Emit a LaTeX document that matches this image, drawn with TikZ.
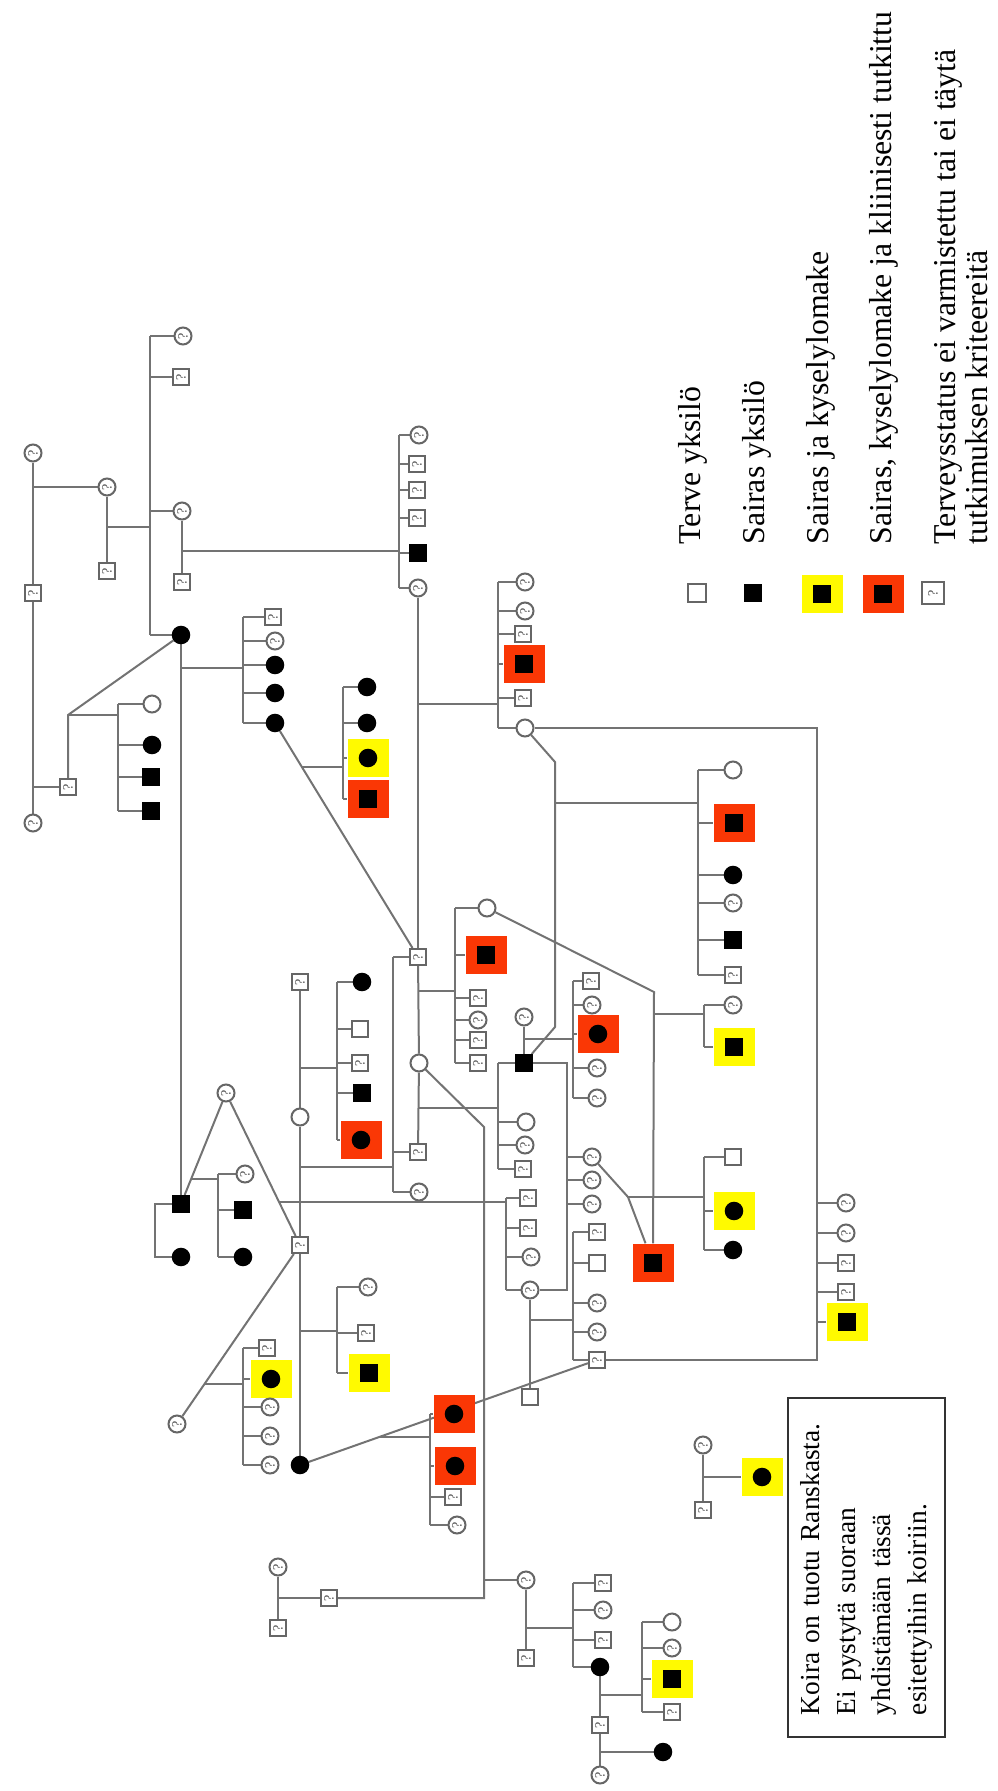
\documentclass[tikz,border=0pt]{standalone}
\usepackage{fontspec}
\setmainfont{Liberation Serif}
\usepackage{tikz}
\usetikzlibrary{calc,backgrounds}
\definecolor{keltainen}{RGB}{255,250,0}
\definecolor{punainen}{RGB}{250,55,5}

\begin{document}
\begin{tikzpicture}[x=0.1mm, y=-0.1mm,
	merkki/.style={draw=black!60, line width=0.2mm, fill=white, inner sep=0pt, minimum size=1.6mm, rotate=90, font=\fontsize{4}{4}\selectfont, text=black!70},
	qc/.style={merkki, circle, minimum size=1.7mm},
	qs/.style={merkki, rectangle},
	oc/.style={merkki, circle, minimum size=1.7mm},
	os/.style={merkki, rectangle},
	bc/.style={merkki, circle, minimum size=1.65mm, draw=black, fill=black},
	bs/.style={merkki, rectangle, draw=black, fill=black},
	kelt/.style={rectangle, fill=keltainen, minimum width=4.1mm, minimum height=3.8mm, inner sep=0pt},
	pun/.style={rectangle, fill=punainen, minimum width=4.1mm, minimum height=3.8mm, inner sep=0pt},
	yhd/.style={color=black!55, line width=0.2mm},
	selite/.style={rotate=90, anchor=base west, inner sep=0pt, font=\fontsize{9.05}{11}\selectfont}]
	\useasboundingbox (0,0) rectangle (998,1791);

	% Selitteet
	\node[os, minimum size=1.8mm] (lg1) at (697,593) {};
	\node[bs] (lg2) at (753,593) {};
	\node[kelt] (lg3) at (822,594) {};
	\node[bs] (lg3m) at (822,594) {};
	\node[pun] (lg4) at (883,594) {};
	\node[bs] (lg4m) at (883,594) {};
	\node[qs, minimum size=2.2mm] (lg5) at (933,593) {?};
	\node[selite] (t1) at (700,545) {Terve yksilö};
	\node[selite] (t2) at (764,545) {Sairas yksilö};
	\node[selite] (t3) at (828,545) {Sairas ja kyselylomake};
	\node[selite] (t4) at (891,545) {Sairas, kyselylomake ja kliinisesti tutkittu};
	\node[selite] (t5) at (955,545) {Terveysstatus ei varmistettu tai ei täytä};
	\node[selite] (t6) at (987,545) {tutkimuksen kriteereitä};

	% Huomautuslaatikko
	\node[draw=black!80, line width=0.25mm, rotate=90, align=left, text width=29.5mm, inner xsep=2.2mm, minimum height=15.7mm, font=\fontsize{7.8}{10.2}\selectfont] (huom) at (866.5,1567.5) {Koira on tuotu Ranskasta.\\Ei pystytä suoraan\\yhdistämään tässä\\esitettyihin koiriin.};

	% Vasen yläkulma
	\node[qc] (c1) at (33,453) {?};
	\node[qs] (s1) at (33,593) {?};
	\node[qc] (c2) at (33,823) {?};
	\node[qc] (c3) at (107,487) {?};
	\node[qs] (s2) at (107,571) {?};
	\node[qs] (s3) at (68,787) {?};
	\node[qc] (c4) at (183,336) {?};
	\node[qs] (s4) at (181,377) {?};
	\node[qc] (c5) at (182,511) {?};
	\node[qs] (s5) at (182,582) {?};
	\node[bc] (b1) at (181,635) {};
	\node[qc] (c6) at (419,435) {?};
	\node[qs] (s6) at (417,464) {?};
	\node[qs] (s7) at (417,490) {?};
	\node[qs] (s8) at (417,518) {?};
	\node[bs] (b2) at (418,553) {};
	\node[qc] (c7) at (418,588) {?};
	\node[oc] (c8) at (152,704) {};
	\node[bc] (b3) at (152,745) {};
	\node[bs] (b4) at (151,777) {};
	\node[bs] (b5) at (151,811) {};
	\node[qs] (s9) at (273,617) {?};
	\node[qc] (c9) at (275,641) {?};
	\node[bc] (b6) at (275,665) {};
	\node[bc] (b7) at (275,693) {};
	\node[bc] (b8) at (275,723) {};
	\node[bc] (b9) at (367,687) {};
	\node[bc] (b10) at (367,723) {};
	\node[kelt] (y1) at (368,758) {};
	\node[bc] (y1m) at (368,758) {};
	\node[pun] (r1) at (368,799) {};
	\node[bs] (r1m) at (368,799) {};

	% Oikea yläosa
	\node[qc] (c10) at (525,582) {?};
	\node[qc] (c11) at (525,611) {?};
	\node[qs] (s10) at (523,634) {?};
	\node[pun] (r2) at (524,664) {};
	\node[bs] (r2m) at (524,664) {};
	\node[qs] (s11) at (523,698) {?};
	\node[oc] (c12) at (525,728) {};
	\node[oc] (c13) at (733,770) {};
	\node[pun] (r3) at (734,823) {};
	\node[bs] (r3m) at (734,823) {};
	\node[bc] (b11) at (733,875) {};
	\node[qc] (c14) at (733,903) {?};
	\node[bs] (b12) at (733,940) {};
	\node[qs] (s12) at (733,975) {?};
	\node[qc] (c15) at (733,1005) {?};
	\node[kelt] (y2) at (734,1047) {};
	\node[bs] (y2m) at (734,1047) {};
	\node[os] (s13) at (733,1157) {};
	\node[kelt] (y3) at (734,1211) {};
	\node[bc] (y3m) at (734,1211) {};
	\node[bc] (b13) at (733,1250) {};
	\node[pun] (r4) at (653,1263) {};
	\node[bs] (r4m) at (653,1263) {};
	\node[qc] (c16) at (846,1203) {?};
	\node[qc] (c17) at (846,1233) {?};
	\node[qs] (s14) at (846,1263) {?};
	\node[qs] (s15) at (846,1292) {?};
	\node[kelt] (y4) at (847,1322) {};
	\node[bs] (y4m) at (847,1322) {};

	% Keskiosa
	\node[qs] (s17) at (418,957) {?};
	\node[oc] (c19) at (419,1063) {};
	\node[qs] (s18) at (418,1152) {?};
	\node[qc] (c18) at (419,1192) {?};
	\node[oc] (c20) at (487,908) {};
	\node[pun] (r5) at (486,955) {};
	\node[bs] (r5m) at (486,955) {};
	\node[qs] (s19) at (478,998) {?};
	\node[qc] (c21) at (478,1020) {?};
	\node[qs] (s20) at (478,1040) {?};
	\node[qs] (s21) at (478,1063) {?};
	\node[qc] (c22) at (524,1017) {?};
	\node[bs] (b14) at (524,1063) {};
	\node[oc] (c23) at (526,1122) {};
	\node[qc] (c24) at (525,1145) {?};
	\node[qs] (s22) at (523,1169) {?};
	\node[qs] (s23) at (591,981) {?};
	\node[qc] (c25) at (592,1005) {?};
	\node[pun] (r6) at (598,1034) {};
	\node[bc] (r6m) at (598,1034) {};
	\node[qc] (c26) at (597,1068) {?};
	\node[qc] (c27) at (597,1098) {?};
	\node[qc] (c28) at (592,1157) {?};
	\node[qc] (c29) at (592,1180) {?};
	\node[qc] (c30) at (592,1204) {?};
	\node[qs] (s24) at (528,1198) {?};
	\node[qs] (s25) at (528,1228) {?};
	\node[qc] (c31) at (531,1257) {?};
	\node[qc] (c32) at (530,1290) {?};
	\node[os] (s26) at (530,1397) {};
	\node[qs] (s27) at (597,1232) {?};
	\node[os] (s28) at (597,1263) {};
	\node[qc] (c33) at (597,1303) {?};
	\node[qc] (c34) at (597,1332) {?};
	\node[qs] (s16) at (597,1360) {?};

	% Vasen keskiosa
	\node[qs] (s29) at (300,982) {?};
	\node[oc] (c35) at (300,1117) {};
	\node[qs] (s30) at (300,1245) {?};
	\node[bc] (b15) at (300,1465) {};
	\node[bc] (b16) at (362,982) {};
	\node[os] (s31) at (360,1029) {};
	\node[qs] (s32) at (360,1063) {?};
	\node[bs] (b17) at (362,1093) {};
	\node[pun] (r7) at (361,1140) {};
	\node[bc] (r7m) at (361,1140) {};
	\node[qc] (c37) at (226,1093) {?};
	\node[qc] (c36) at (245,1174) {?};
	\node[bs] (b18) at (243,1210) {};
	\node[bc] (b19) at (243,1257) {};
	\node[bs] (b20) at (181,1204) {};
	\node[bc] (b21) at (181,1257) {};
	\node[qc] (c38) at (368,1287) {?};
	\node[qs] (s33) at (366,1333) {?};
	\node[kelt] (y5) at (369,1373) {};
	\node[bs] (y5m) at (369,1373) {};
	\node[qc] (c39) at (177,1424) {?};
	\node[qs] (s34) at (267,1348) {?};
	\node[kelt] (y6) at (271,1379) {};
	\node[bc] (y6m) at (271,1379) {};
	\node[qc] (c40) at (270,1407) {?};
	\node[qc] (c41) at (270,1436) {?};
	\node[qc] (c42) at (270,1465) {?};
	\node[pun] (r8) at (454,1414) {};
	\node[bc] (r8m) at (454,1414) {};
	\node[pun] (r9) at (455,1466) {};
	\node[bc] (r9m) at (455,1466) {};
	\node[qs] (s35) at (453,1497) {?};
	\node[qc] (c43) at (457,1525) {?};

	% Alaosa
	\node[qc] (c44) at (278,1567) {?};
	\node[qs] (s36) at (278,1628) {?};
	\node[qs] (s37) at (329,1598) {?};
	\node[qc] (c45) at (526,1580) {?};
	\node[qs] (s38) at (526,1658) {?};
	\node[qs] (s39) at (603,1583) {?};
	\node[qc] (c46) at (603,1610) {?};
	\node[qs] (s40) at (603,1640) {?};
	\node[bc] (b22) at (600,1667) {};
	\node[qs] (s41) at (600,1725) {?};
	\node[qc] (c47) at (600,1775) {?};
	\node[oc] (c48) at (672,1622) {};
	\node[qc] (c49) at (672,1648) {?};
	\node[kelt] (y7) at (672,1679) {};
	\node[bs] (y7m) at (672,1679) {};
	\node[qs] (s42) at (672,1712) {?};
	\node[bc] (b23) at (663,1752) {};
	\node[qc] (c50) at (703,1445) {?};
	\node[qs] (s43) at (703,1510) {?};
	\node[kelt] (y8) at (762,1477) {};
	\node[bc] (y8m) at (762,1477) {};

	% Sisarusviivojen paikat
	\coordinate (k118) at (118,0);
	\coordinate (k150) at (150,0);
	\coordinate (k155) at (155,0);
	\coordinate (k218) at (218,0);
	\coordinate (k243) at (243,0);
	\coordinate (k337) at (337,0);
	\coordinate (k343) at (343,0);
	\coordinate (k393) at (393,0);
	\coordinate (k399) at (399,0);
	\coordinate (k430) at (430,0);
	\coordinate (k455) at (455,0);
	\coordinate (k498) at (498,0);
	\coordinate (k506) at (506,0);
	\coordinate (k573) at (573,0);
	\coordinate (k642) at (642,0);
	\coordinate (k698) at (698,0);
	\coordinate (k704) at (704,0);

	% Mutkat ja jälkeläisviivojen alut
	\coordinate (m1) at (68,715);
	\coordinate (q1) at (817,728);
	\coordinate (q2) at (817,1360);
	\coordinate (q3) at (555,762);
	\coordinate (q4) at (555,1027);
	\coordinate (q5) at (654,992);
	\coordinate (q6) at (628,1197);
	\coordinate (q7) at (484,1127);
	\coordinate (q8) at (484,1598);
	\coordinate (q9) at (567,1063);
	\coordinate (q10) at (567,1290);
	\coordinate (d1) at (107,527);
	\coordinate (d2) at (182,551);
	\coordinate (d3) at (181,668);
	\coordinate (d4) at ($(b8)!0.19!(s17)$);
	\coordinate (d5) at (418,704);
	\coordinate (d6) at (555,803);
	\coordinate (d7) at (654,1014);
	\coordinate (d8) at (418,991);
	\coordinate (d9) at (418,1108);
	\coordinate (d10) at (524,1039);
	\coordinate (d11) at ($(c37)!0.717!(s30)$);
	\coordinate (d12) at (530,1320);
	\coordinate (d13) at ($(b15)!0.27!(s16)$);
	\coordinate (d14) at (300,1068);
	\coordinate (d15) at (300,1167);
	\coordinate (d16) at (300,1331);
	\coordinate (d17) at ($(b20)!0.225!(c37)$);
	\coordinate (d18) at ($(c39)!0.223!(s30)$);
	\coordinate (d19) at (526,1628);
	\coordinate (d20) at (600,1695);

	% Viivat merkkien taakse
	\begin{pgfonlayer}{background}
	\begin{scope}[yhd]
		\draw (c1) -- (s1);
		\draw (s1) -- (c2);
		\draw (c3) -- (c3 -| c1);
		\draw (s3) -- (s3 -| c1);
		\draw (c3) -- (s2);
		\draw (d1) -- (d1 -| k150);
		\draw (c4 -| k150) -- (b1 -| k150);
		\foreach \n in {c4,s4,c5,b1} \draw (\n) -- (\n -| k150);
		\draw (c5) -- (s5);
		\draw (d2) -- (d2 -| k399);
		\draw (c6 -| k399) -- (c7 -| k399);
		\foreach \n in {c6,s6,s7,s8,b2,c7} \draw (\n) -- (\n -| k399);
		\draw (s3) -- (m1) -- (b1);
		\draw (m1) -- (m1 -| k118);
		\draw (c8 -| k118) -- (b5 -| k118);
		\foreach \n in {c8,b3,b4,b5} \draw (\n) -- (\n -| k118);
		\draw (b1) -- (b20);
		\draw (d3) -- (d3 -| k243);
		\draw (s9 -| k243) -- (b8 -| k243);
		\foreach \n in {s9,c9,b6,b7,b8} \draw (\n) -- (\n -| k243);
		\draw (b8) -- (s17);
		\draw (d4) -- (d4 -| k343);
		\draw (b9 -| k343) -- (r1 -| k343);
		\foreach \n in {b9,b10,y1,r1} \draw (\n) -- (\n -| k343);
		\draw (c7) -- (s17);
		\draw (d5) -- (d5 -| k498);
		\draw (c10 -| k498) -- (c12 -| k498);
		\foreach \n in {c10,c11,s10,r2,s11,c12} \draw (\n) -- (\n -| k498);
		\draw (c12) -- (q1) -- (q2) -- (s16);
		\foreach \n in {c16,c17,s14,s15,y4} \draw (\n) -- (\n -| q1);
		\draw (c12) -- (q3) -- (q4) -- (b14);
		\draw (d6) -- (d6 -| k698);
		\draw (c13 -| k698) -- (s12 -| k698);
		\foreach \n in {c13,r3,b11,c14,b12,s12} \draw (\n) -- (\n -| k698);
		\draw (c20) -- (q5) -- (r4);
		\draw (d7) -- (d7 -| k704);
		\draw (c15 -| k704) -- (y2 -| k704);
		\foreach \n in {c15,y2} \draw (\n) -- (\n -| k704);
		\draw (c28) -- (q6) -- (r4);
		\draw (q6) -- (q6 -| k704);
		\draw (s13 -| k704) -- (b13 -| k704);
		\foreach \n in {s13,y3,b13} \draw (\n) -- (\n -| k704);
		\draw (s17) -- (c19);
		\draw (c19) -- (s18);
		\draw (d8) -- (d8 -| k455);
		\draw (c20 -| k455) -- (s21 -| k455);
		\foreach \n in {c20,r5,s19,c21,s20,s21} \draw (\n) -- (\n -| k455);
		\draw (d9) -- (d9 -| k498);
		\draw (b14 -| k498) -- (s22 -| k498);
		\foreach \n in {b14,c23,c24,s22} \draw (\n) -- (\n -| k498);
		\draw (c19) -- (q7) -- (q8) -- (s37);
		\draw (c45) -- (c45 -| q7);
		\draw (c22) -- (b14);
		\draw (d10) -- (d10 -| k573);
		\draw (s23 -| k573) -- (c27 -| k573);
		\foreach \n in {s23,c25,r6,c26,c27} \draw (\n) -- (\n -| k573);
		\draw (b14) -- (q9) -- (q10) -- (c32);
		\foreach \n in {c28,c29,c30} \draw (\n) -- (\n -| q9);
		\draw (d11) -- (d11 -| k506);
		\draw (s24 -| k506) -- (c32 -| k506);
		\foreach \n in {s24,s25,c31,c32} \draw (\n) -- (\n -| k506);
		\draw (c32) -- (s26);
		\draw (d12) -- (d12 -| k573);
		\draw (s27 -| k573) -- (s16 -| k573);
		\foreach \n in {s27,s28,c33,c34,s16} \draw (\n) -- (\n -| k573);
		\draw (b15) -- (s16);
		\draw (d13) -- (d13 -| k430);
		\draw (r8 -| k430) -- (c43 -| k430);
		\foreach \n in {r8,r9,s35,c43} \draw (\n) -- (\n -| k430);
		\draw (s29) -- (c35);
		\draw (c35) -- (s30);
		\draw (s30) -- (b15);
		\draw (d14) -- (d14 -| k337);
		\draw (b16 -| k337) -- (r7 -| k337);
		\foreach \n in {b16,s31,s32,b17,r7} \draw (\n) -- (\n -| k337);
		\draw (d15) -- (d15 -| k393);
		\draw (s17 -| k393) -- (c18 -| k393);
		\foreach \n in {s17,s18,c18} \draw (\n) -- (\n -| k393);
		\draw (d16) -- (d16 -| k337);
		\draw (c38 -| k337) -- (y5 -| k337);
		\foreach \n in {c38,s33,y5} \draw (\n) -- (\n -| k337);
		\draw (b20) -- (c37);
		\draw (c37) -- (s30);
		\draw (d17) -- (d17 -| k218);
		\draw (c36 -| k218) -- (b19 -| k218);
		\foreach \n in {c36,b18,b19} \draw (\n) -- (\n -| k218);
		\draw (b20) -- (b20 -| k155) -- (b21 -| k155) -- (b21);
		\draw (s30) -- (c39);
		\draw (d18) -- (d18 -| k243);
		\draw (s34 -| k243) -- (c42 -| k243);
		\foreach \n in {s34,y6,c40,c41,c42} \draw (\n) -- (\n -| k243);
		\draw (c44) -- (s36);
		\draw (s37) -- (s37 -| c44);
		\draw (c45) -- (s38);
		\draw (d19) -- (d19 -| k573);
		\draw (s39 -| k573) -- (b22 -| k573);
		\foreach \n in {s39,c46,s40,b22} \draw (\n) -- (\n -| k573);
		\draw (b22) -- (s41);
		\draw (s41) -- (c47);
		\draw (d20) -- (d20 -| k642);
		\draw (c48 -| k642) -- (s42 -| k642);
		\foreach \n in {c48,c49,y7,s42} \draw (\n) -- (\n -| k642);
		\draw (b23) -- (b23 -| b22);
		\draw (c50) -- (s43);
		\draw (y8) -- (y8 -| c50);
	\end{scope}
	\end{pgfonlayer}
\end{tikzpicture}
\end{document}
